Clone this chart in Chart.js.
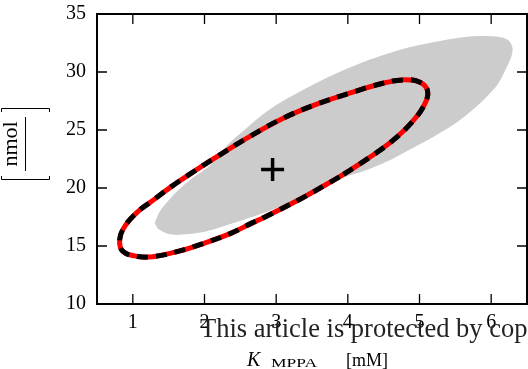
<!DOCTYPE html>
<html>
<head>
<meta charset="utf-8">
<script src="https://cdn.jsdelivr.net/npm/chart.js@4/dist/chart.umd.min.js"></script>
<style>
  html, body { margin: 0; padding: 0; background: #fff; }
</style>
</head>
<body>
<canvas id="chart" width="528" height="369"></canvas>
<script>
const xTicks = [1, 2, 3, 4, 5, 6];
const yTicks = [10, 15, 20, 25, 30, 35];

// grey confidence region (outline)
const regionX = [1.304, 1.374, 1.471, 1.611, 1.820, 2.071, 2.349, 2.559, 2.768, 3.000, 3.418, 3.789,
  4.255, 4.719, 5.137, 5.694, 6.067, 6.238, 6.298, 6.280, 6.211, 6.085, 5.834, 5.528, 5.165, 4.858,
  4.621, 4.231, 3.841, 3.465, 3.116, 2.795, 2.461, 2.001, 1.653, 1.485, 1.346];
const regionY = [17.00, 17.95, 18.72, 19.67, 20.79, 21.91, 23.89, 25.01, 26.13, 27.16, 28.60, 29.75,
  30.95, 31.90, 32.50, 33.06, 33.06, 32.76, 32.07, 31.30, 30.35, 28.89, 27.25, 25.70, 24.32, 23.29,
  22.51, 21.48, 20.70, 19.58, 18.55, 17.77, 17.08, 16.22, 15.96, 16.05, 16.48];

// ellipse outline
const ellipseX = [3.883, 3.395, 3.046, 2.837, 2.652, 2.373, 2.001, 1.629, 1.304, 1.071, 0.862, 0.816,
  0.886, 1.071, 1.258, 1.537, 1.816, 2.140, 2.628, 3.092, 3.558, 4.022, 4.486, 4.765, 4.998, 5.113,
  5.067, 4.886, 4.621, 4.273, 3.883];
const ellipseY = [20.96, 19.24, 18.12, 17.48, 16.95, 16.11, 15.25, 14.53, 14.10, 14.10, 14.53, 15.53,
  16.68, 17.97, 18.83, 20.12, 21.28, 22.57, 24.43, 26.00, 27.21, 28.17, 29.03, 29.32, 29.14, 28.37,
  27.16, 25.61, 24.06, 22.51, 20.96];

const bestX = [2.95];
const bestY = [21.6];

const toPoints = (xs, ys) => xs.map((v, i) => ({ x: v, y: ys[i] }));
const serif = '"Liberation Serif", "Times New Roman", serif';

const framePlugin = {
  id: 'frame',
  afterDatasetsDraw(chart) {
    const { ctx, chartArea: a, scales: { x, y } } = chart;
    ctx.save();
    ctx.strokeStyle = '#000';
    ctx.lineWidth = 1.3;
    ctx.beginPath();
    xTicks.forEach(v => {
      const px = x.getPixelForValue(v);
      ctx.moveTo(px, a.bottom); ctx.lineTo(px, a.bottom - 10);
      ctx.moveTo(px, a.top); ctx.lineTo(px, a.top + 10);
    });
    yTicks.forEach(v => {
      const py = y.getPixelForValue(v);
      ctx.moveTo(a.left, py); ctx.lineTo(a.left + 10, py);
      ctx.moveTo(a.right, py); ctx.lineTo(a.right - 10, py);
    });
    ctx.stroke();
    ctx.lineWidth = 2;
    ctx.strokeRect(a.left, a.top, a.right - a.left, a.bottom - a.top);
    ctx.restore();
  }
};

const textPlugin = {
  id: 'texts',
  afterDraw(chart) {
    const ctx = chart.ctx;
    ctx.save();
    ctx.fillStyle = '#000';
    ctx.strokeStyle = '#000';
    ctx.textBaseline = 'alphabetic';

    // y label: [ nmol / ... ] rotated
    ctx.save();
    ctx.translate(17, 144);
    ctx.rotate(-Math.PI / 2);
    ctx.font = '22px ' + serif;
    ctx.textAlign = 'center';
    ctx.fillText('nmol', 0, 0);
    ctx.restore();
    ctx.lineWidth = 1;
    ctx.beginPath();
    ctx.moveTo(25.5, 117); ctx.lineTo(25.5, 171);
    ctx.moveTo(1.5, 112); ctx.lineTo(1.5, 108.5); ctx.lineTo(49.5, 108.5); ctx.lineTo(49.5, 112);
    ctx.moveTo(1.5, 176); ctx.lineTo(1.5, 179.5); ctx.lineTo(49.5, 179.5); ctx.lineTo(49.5, 176);
    ctx.stroke();

    // x label: K_MPPA [mM]
    ctx.textAlign = 'left';
    ctx.font = 'italic 20px ' + serif;
    ctx.fillText('K', 247, 366);
    ctx.save();
    ctx.font = '12px ' + serif;
    const w = ctx.measureText('MPPA').width;
    ctx.translate(271, 367);
    ctx.scale(46 / w, 1);
    ctx.fillText('MPPA', 0, 0);
    ctx.restore();
    ctx.font = '18px ' + serif;
    ctx.fillText('[mM]', 346, 366);

    // overlay text
    ctx.fillStyle = '#222';
    ctx.font = '26.5px ' + serif;
    ctx.fillText('This article is protected by cop', 200, 337);
    ctx.restore();
  }
};

new Chart(document.getElementById('chart'), {
  type: 'scatter',
  data: {
    datasets: [
      {
        data: toPoints(bestX, bestY),
        pointStyle: 'cross',
        pointRadius: 11.5,
        borderColor: '#000',
        borderWidth: 3.5,
        order: 1
      },
      {
        data: toPoints(ellipseX, ellipseY),
        showLine: true,
        pointRadius: 0,
        borderColor: '#000',
        borderWidth: 5,
        borderDash: [11, 8],
        tension: 0.4,
        fill: false,
        order: 2
      },
      {
        data: toPoints(ellipseX, ellipseY),
        showLine: true,
        pointRadius: 0,
        borderColor: '#ff0000',
        borderWidth: 5,
        tension: 0.4,
        fill: false,
        order: 3
      },
      {
        data: toPoints(regionX, regionY),
        showLine: true,
        pointRadius: 0,
        borderWidth: 0,
        borderColor: 'rgba(0,0,0,0)',
        backgroundColor: '#cccccc',
        tension: 0.3,
        fill: 'shape',
        order: 4
      }
    ]
  },
  options: {
    responsive: false,
    devicePixelRatio: 1,
    animation: false,
    layout: { autoPadding: false, padding: { top: 14, right: 1, left: 0, bottom: 0 } },
    plugins: { legend: { display: false }, tooltip: { enabled: false } },
    scales: {
      x: {
        type: 'linear',
        min: 0.5,
        max: 6.5,
        afterBuildTicks: s => { s.ticks = xTicks.map(v => ({ value: v })); },
        afterFit: s => { s.height = 65; s.paddingLeft = 0; s.paddingRight = 0; },
        grid: { display: false, drawTicks: false },
        border: { display: false },
        ticks: { color: '#000', padding: 7, font: { family: serif, size: 20 } }
      },
      y: {
        type: 'linear',
        min: 10,
        max: 35,
        afterBuildTicks: s => { s.ticks = yTicks.map(v => ({ value: v })); },
        afterFit: s => { s.width = 97; s.paddingTop = 0; s.paddingBottom = 0; },
        grid: { display: false, drawTicks: false },
        border: { display: false },
        ticks: { color: '#000', padding: 11, font: { family: serif, size: 20 } }
      }
    }
  },
  plugins: [framePlugin, textPlugin]
});
</script>
</body>
</html>
